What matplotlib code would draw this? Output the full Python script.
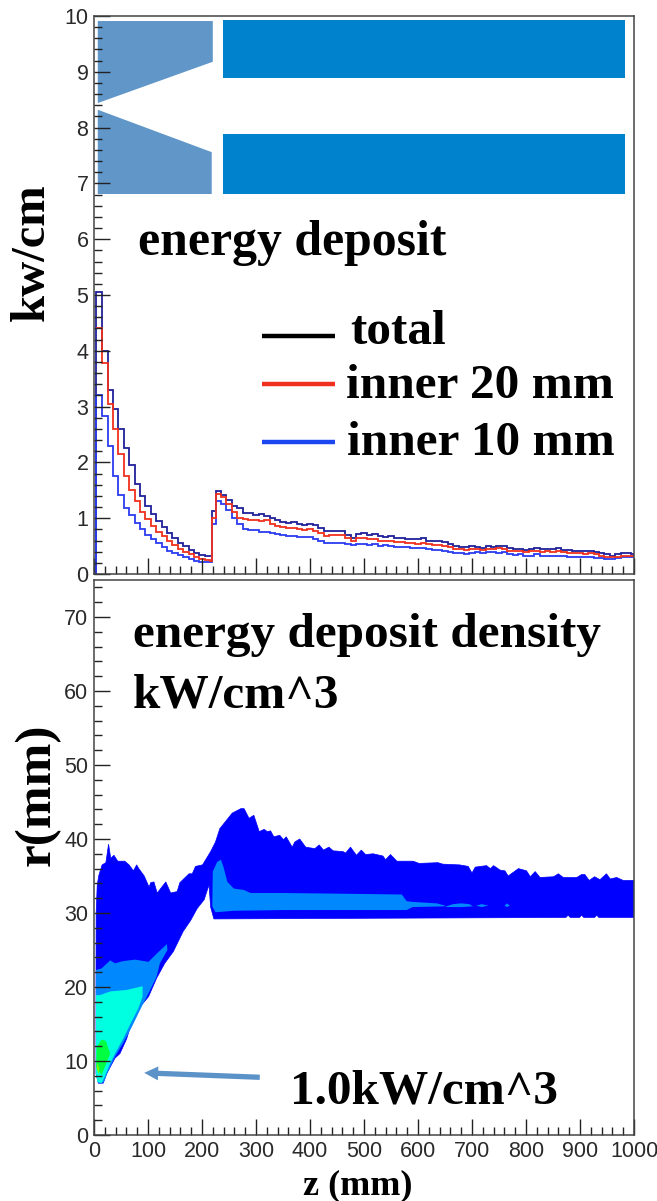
import numpy as np
import matplotlib
matplotlib.use('Agg')
import matplotlib.pyplot as plt
from matplotlib.ticker import MultipleLocator

W, H = 657, 1201

# ===== energy deposit histograms (kW/cm), irregular first bins then 10 mm
bin_edges = np.concatenate(([3], np.arange(15, 216, 10), [219], np.arange(225, 1006, 10)))

total = [5.05, 4.0, 3.3, 2.95, 2.6, 2.25, 1.95, 1.62, 1.4, 1.22, 1.07, 0.95, 0.85, 0.73, 0.64, 0.55, 0.5, 0.43,
         0.38, 0.34, 0.32, 0.33, 1.13,
         1.49, 1.42, 1.33, 1.22, 1.18, 1.10, 1.10, 1.06, 1.08, 1.04, 1.00, .97, .94, .92, .93, .90, .88, .90, .87,
         .83, .77, .77, .77, .77, .70, .64, .72, .73, .70, .71, .68, .66, .68, .64, .65, .63, .62, .62, .64, .60,
         .60, .60, .57, .54, .51, .49, .48, .50, .49, .47, .50, .48, .51, .50, .46, .44, .45, .43, .45, .46, .44,
         .45, .44, .46, .43, .43, .42, .42, .41, .42, .40, .37, .35, .33, .35, .38, .37, .35]
inner20 = [4.4, 3.78, 3.05, 2.6, 2.15, 1.75, 1.5, 1.3, 1.12, .98, .86, .76, .68, .6, .52, .45, .4, .35, .3, .27,
           .25, .24, 1.0,
           1.43, 1.38, 1.25, 1.12, 1.0, .98, .97, .96, .95, .96, .90, .86, .84, .82, .83, .80, .79, .80, .77, .73,
           .68, .69, .69, .70, .64, .60, .64, .65, .62, .63, .60, .60, .60, .58, .58, .56, .56, .54, .56, .53, .52,
           .52, .50, .48, .45, .44, .43, .45, .44, .43, .45, .44, .46, .45, .42, .41, .42, .40, .41, .42, .40, .41,
           .40, .41, .39, .37, .37, .37, .36, .37, .35, .33, .31, .30, .31, .33, .33, .32]
inner10 = [3.2, 2.84, 2.3, 1.75, 1.42, 1.18, 1.05, .92, .8, .7, .62, .55, .48, .42, .37, .34, .3, .27, .24, .22,
           .21, .21, .9,
           1.3, 1.26, 1.14, 1.0, .9, .8, .78, .78, .76, .75, .73, .71, .69, .68, .68, .66, .67, .66, .63, .59, .56,
           .56, .56, .55, .53, .52, .54, .53, .52, .53, .51, .52, .50, .49, .49, .48, .46, .46, .46, .44, .43, .43,
           .41, .40, .38, .37, .36, .38, .39, .38, .40, .39, .38, .39, .35, .34, .35, .33, .33, .35, .33, .33, .32,
           .33, .32, .31, .31, .31, .30, .31, .29, .28, .27, .27, .28, .30, .30, .30]

# detector outline, in the axes units of the upper panel
cone_top_z = [7, 220, 220, 7]
cone_top_v = [9.91, 9.91, 9.18, 8.44]
cone_bot_z = [7, 218, 218, 7]
cone_bot_v = [8.32, 7.56, 6.81, 6.81]
pipe_z = [239, 983]
pipe_lo = [8.89, 6.81]
pipe_hi = [9.93, 7.89]

# ===== energy deposit density contours, boundary z and r in mm
ridge_z = [3.7, 4, 6, 9, 15, 22, 27, 31, 37, 44, 57, 65, 73, 79, 83, 93, 102, 105, 111, 117, 133, 142, 154, 159,
           176, 182, 188, 201, 216, 225, 233, 256, 272, 278, 287, 296, 306, 315, 321, 327, 333,
           344, 351, 356, 367, 372, 381, 392, 409, 417, 425, 435, 443, 461, 466, 475, 486, 495, 503, 517, 535, 540,
           549, 561, 591, 602, 637, 646, 677,
           693, 700, 706, 727, 734, 740, 752, 761, 767, 786, 801, 808, 817, 826, 851, 860, 869, 894, 903, 909, 917,
           927, 937, 949, 956, 968, 980, 1000]
ridge_r = [22, 30, 33.8, 35.1, 36.5, 36.8, 39.3, 37.4, 37.8, 37, 37, 36.5, 35.7, 36.5, 36, 35, 33.5, 34.1, 34.2,
           32.7, 34.2, 32.7, 32.9, 34.1, 35.3, 35.3, 36.3, 36.5, 38.3, 39.6, 41.4, 43.5, 44.1, 44.1, 42.8, 43.2,
           41, 41.3, 41, 41.1, 40.3,
           40.5, 39.9, 40.3, 38.9, 39.6, 40, 38.9, 38.7, 39.2, 38.5, 38.9, 38.4, 38.3, 38.1, 38.9, 37.8, 38.5, 37.9,
           38, 37.7, 37.2, 37.9, 37, 37, 36.7, 36.8, 36.6, 36.5,
           36.3, 35.4, 36.2, 36.4, 36, 36.4, 35.8, 35.7, 35, 36, 35.7, 34.9, 35.6, 34.8, 34.9, 35.3, 34.8, 34.8,
           35.2, 35.2, 34.4, 34.9, 34.5, 35.3, 34.6, 34.8, 34.4, 34.4]
floor_z = [1000, 935, 931, 927, 907, 903, 899, 882, 878, 874, 222, 216, 213, 204, 191, 179, 165, 147, 131, 116,
           101, 85, 70, 60.5, 48, 39, 23.5, 17, 8, 3.7]
floor_r = [29.4, 29.4, 29.7, 29.4, 29.4, 29.7, 29.4, 29.4, 29.7, 29.4, 29.2, 30.8, 33.8, 31.8, 30.6, 29, 27.5, 24.8,
           23.2, 21.2, 18.7, 17.3, 15.3, 13, 11, 10.4, 8.3, 7, 7, 8.3]
mid_z = [3.7, 14, 30, 39, 54, 76, 101, 116, 135, 136, 122, 116, 104, 88, 70, 54, 39, 26, 18, 8, 3.7]
mid_r = [22.3, 22.5, 23.6, 23.2, 23.5, 23.7, 23.4, 24.5, 25.8, 25, 23.2, 21.4, 19.6, 17.3, 14.6, 12.4, 10.6, 8.6, 7.1,
         7, 8.3]
mid2_z = [220, 228, 235, 239.5, 247, 259, 278, 290, 352, 467, 570, 579, 590, 635, 650,
          650, 590, 579, 467, 352, 259, 225, 219]
mid2_r = [35.6, 36.9, 37.2, 36.3, 34.2, 33.3, 33.1, 32.7, 32.7, 32.6, 32.5, 31.6, 31.5, 31.3, 31.0,
          30.9, 30.8, 30.4, 30.4, 30.4, 30.3, 30.1, 30.9]
island_z = [[652, 665, 680, 695, 702, 680, 652], [708, 718, 730, 718], [760, 765, 770, 765]]
island_r = [[30.9, 31.2, 31.3, 31.2, 30.9, 30.8, 30.8], [31, 31.2, 31, 30.8], [31, 31.3, 31, 30.8]]
cyan_z = [3.7, 11, 30, 60, 90, 90, 82, 68, 54, 39, 30, 20, 14, 6, 3.7]
cyan_r = [18.9, 18.9, 19.4, 19.6, 20.1, 18.7, 17.1, 15.1, 13, 11, 9.7, 7.9, 7, 7.2, 8.3]
green_z = [5, 14, 22, 30, 14, 4]
green_r = [11.9, 12.9, 12.7, 11, 8.1, 9.2]
lime_z = [6, 10, 9, 5]
lime_r = [9.8, 9, 8.2, 9]

plt.rcParams['font.family'] = ['Liberation Sans', 'DejaVu Sans']
fig = plt.figure(figsize=(W / 100, H / 100), dpi=100)


def add_panel(top, bottom):
    ax = fig.add_axes([94 / W, 1 - bottom / H, 540 / W, (bottom - top) / H])
    ax.set_xlim(0, 1000)
    ax.xaxis.set_major_locator(MultipleLocator(100))
    ax.xaxis.set_minor_locator(MultipleLocator(20))
    ax.tick_params(which='major', direction='in', length=11.5, width=1, color='#222222',
                   labelsize=15.5, labelcolor='#2a2a2a', pad=4)
    ax.tick_params(which='minor', direction='in', length=6, width=1, color='#222222')
    for s in ax.spines.values():
        s.set_linewidth(1.1)
        s.set_color('#444444')
    return ax


def label(x, y, s, size, **kw):
    fig.text(x / W, 1 - y / H, s, fontsize=size, fontweight='bold', family='Liberation Serif',
             va='center', color='black', **kw)


# ===== upper panel
ax1 = add_panel(16, 574)
ax1.set_ylim(0, 10)
ax1.yaxis.set_major_locator(MultipleLocator(1))
ax1.yaxis.set_minor_locator(MultipleLocator(0.2))
ax1.tick_params(axis='x', labelbottom=False)
ax1.stairs(total, bin_edges, baseline=0, color='#20209a', lw=1.3)
ax1.stairs(inner10, bin_edges, baseline=0, color='#2a3cf0', lw=1.3)
ax1.stairs(inner20, bin_edges, baseline=None, color='#f0301e', lw=1.3)
ax1.fill(cone_top_z, cone_top_v, color='#6096c8', lw=0)
ax1.fill(cone_bot_z, cone_bot_v, color='#6096c8', lw=0)
for lo, hi in zip(pipe_lo, pipe_hi):
    ax1.fill([pipe_z[0], pipe_z[1], pipe_z[1], pipe_z[0]], [lo, lo, hi, hi], color='#0082cc', lw=0)

# ===== lower panel
ax2 = add_panel(580, 1135)
ax2.set_ylim(0, 75)
ax2.yaxis.set_major_locator(MultipleLocator(10))
ax2.yaxis.set_minor_locator(MultipleLocator(2))
ax2.fill(ridge_z + floor_z, ridge_r + floor_r, color='#0000ff', lw=0.5)
ax2.fill(mid_z, mid_r, color='#0088ff', lw=0)
ax2.fill(mid2_z, mid2_r, color='#0088ff', lw=0)
for iz, ir in zip(island_z, island_r):
    ax2.fill(iz, ir, color='#0088ff', lw=0)
ax2.fill(cyan_z, cyan_r, color='#00ffe0', lw=0)
ax2.fill(green_z, green_r, color='#00ff40', lw=0)
ax2.fill(lime_z, lime_r, color='#70ff00', lw=0)
ax2.annotate('', xy=(93, 8.4), xytext=(307, 7.8),
             arrowprops=dict(arrowstyle='simple,head_width=1.0,head_length=1.0,tail_width=0.38',
                             color='#5b92c8', lw=0, shrinkA=0, shrinkB=0))

# ===== slide text on top
label(138, 243, 'energy deposit', 35.8)
label(350, 332, 'total', 35.5)
label(346, 386, 'inner 20 mm', 35.5)
label(347, 443, 'inner 10 mm', 35.5)
label(133, 635, 'energy deposit density', 35.5)
label(133, 695, 'kW/cm^3', 35.5)
label(290, 1091, '1.0kW/cm^3', 35.5)
label(358, 1186, 'z (mm)', 26, ha='center')
label(32, 252, 'kw/cm', 35, rotation=90, ha='center')
label(38, 795, 'r(mm)', 37, rotation=90, ha='center')

for y, c in zip([336, 384, 442], ['black', '#f0301e', '#1c46f0']):
    fig.add_artist(plt.Line2D([262 / W, 335 / W], [1 - y / H, 1 - y / H], color=c, lw=3.2,
                              solid_capstyle='butt'))

fig.savefig('out.png', dpi=100)
